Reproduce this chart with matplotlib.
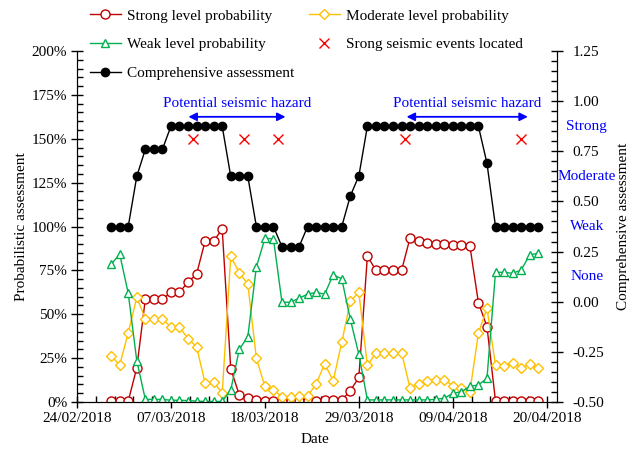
import numpy as np
import pandas as pd
import matplotlib
matplotlib.use("Agg")
from matplotlib import pyplot as plt
from matplotlib import dates as mdates
from matplotlib.ticker import PercentFormatter, MultipleLocator, FixedLocator, FormatStrFormatter

# daily values, 28/02/2018 .. 19/04/2018
dates = pd.date_range("2018-02-28", "2018-04-19", freq="D")

strong = [0.5, 0.5, 0.5, 19.5, 58.5, 58.5, 58.5, 62.5, 62.5, 68.4,
          72.9, 91.7, 91.7, 98.5, 19.0, 4.0, 2.0, 1.0, 0.5, 0.5,
          0.5, 0.5, 0.5, 0.5, 0.5, 1.0, 1.0, 1.0, 6.5, 14.0,
          83.2, 75.0, 75.0, 75.0, 75.0, 93.6, 91.7, 90.8, 90.0, 90.0,
          89.5, 89.5, 88.9, 56.6, 42.9, 0.5, 0.5, 0.5, 0.5, 0.5, 0.5]

moderate = [26.2, 21.1, 39.5, 59.6, 47.5, 47.5, 47.5, 42.6, 42.6, 36.1,
            31.5, 10.8, 11.6, 4.9, 83.0, 73.7, 67.2, 24.9, 8.9, 7.0,
            2.8, 2.7, 3.2, 3.2, 10.3, 21.7, 12.1, 34.0, 57.5, 62.4,
            20.8, 28.1, 28.1, 28.1, 28.1, 7.8, 10.5, 11.8, 12.5, 12.5,
            9.4, 8.2, 5.9, 39.3, 53.4, 21.1, 20.5, 22.0, 19.6, 21.5, 19.6]

weak = [78.5, 84.3, 61.9, 23.5, 1.5, 1.5, 1.5, 1.0, 1.0, 0.8,
        0.5, 0.3, 0.3, 0.3, 6.8, 30.0, 37.2, 76.9, 93.2, 93.0,
        56.8, 56.9, 59.1, 61.5, 62.4, 61.5, 72.5, 70.2, 47.1, 27.2,
        1.2, 1.2, 1.2, 1.2, 1.2, 1.2, 1.2, 1.2, 1.5, 2.2,
        4.9, 5.9, 8.9, 9.7, 13.5, 73.9, 73.9, 73.3, 75.2, 83.8, 84.7]

comprehensive = [0.375, 0.375, 0.375, 0.625, 0.76, 0.76, 0.76, 0.875, 0.875, 0.875,
                 0.875, 0.875, 0.875, 0.875, 0.625, 0.625, 0.625, 0.375, 0.375, 0.375,
                 0.274, 0.274, 0.274, 0.375, 0.375, 0.375, 0.375, 0.375, 0.527, 0.627,
                 0.875, 0.875, 0.875, 0.875, 0.875, 0.875, 0.875, 0.875, 0.875, 0.875,
                 0.875, 0.875, 0.875, 0.875, 0.69, 0.375, 0.375, 0.375, 0.375, 0.375, 0.375]

event_times = pd.to_datetime(["2018-03-09 14:00", "2018-03-15 14:00", "2018-03-19 12:00",
                              "2018-04-03 10:00", "2018-04-17 00:00"])
event_level = [150, 150, 150, 150, 150]

hazard_spans = [("2018-03-09 01:00", "2018-03-20 10:00"),
                ("2018-04-03 14:00", "2018-04-17 19:00")]
hazard_label = "Potential seismic hazard"

level_names = ["Strong", "Moderate", "Weak", "None"]
level_pos = [0.875, 0.625, 0.375, 0.125]

plt.rcParams["font.family"] = ["Liberation Serif", "DejaVu Serif"]
plt.rcParams["font.size"] = 11

fig = plt.figure(figsize=(6.37, 4.51), dpi=100)
ax = fig.add_axes([77 / 637, 1 - 402 / 451, 480 / 637, 351 / 451])
ax2 = ax.twinx()

s = np.array(strong) / 100
m = np.array(moderate) / 100
w = np.array(weak) / 100

l1, = ax.plot(dates, s, color="#C00000", lw=1, marker="o", ms=6.5, mfc="white", mew=1,
              label="Strong level probability")
l2, = ax.plot(dates, m, color="#FFC000", lw=1, marker="D", ms=4.8, mfc="white", mew=1,
              label="Moderate level probability")
l3, = ax.plot(dates, w, color="#00B050", lw=1, marker="^", ms=6, mfc="white", mew=1,
              label="Weak level probability")
l4, = ax.plot(event_times, np.array(event_level) / 100, ls="none", marker="x", ms=7,
              color="#FF0000", mew=1, label="Srong seismic events located")
l5, = ax2.plot(dates, comprehensive, color="black", lw=1, marker="o", ms=6,
               label="Comprehensive assessment")

for a, b in hazard_spans:
    a = pd.Timestamp(a)
    b = pd.Timestamp(b)
    ax.annotate("", xy=(a, 1.625), xytext=(b, 1.625),
                arrowprops=dict(arrowstyle="<|-|>", color="#0000FF", lw=1.3,
                                mutation_scale=12, shrinkA=0, shrinkB=0))
    ax.text(a + (b - a) / 2, 1.70, hazard_label, color="#0000FF",
            ha="center", va="center")

start = pd.Timestamp("2018-02-24")
ax.set_xlim(start, start + pd.Timedelta(days=56.2))
ax.set_xticks(pd.date_range(start, periods=6, freq="11D"))
ax.xaxis.set_major_formatter(mdates.DateFormatter("%d/%m/%Y"))
minor = [mdates.date2num(start) + k * 2.2 for k in range(26)]
ax.xaxis.set_minor_locator(FixedLocator(minor))

ax.set_ylim(0, 2)
ax.yaxis.set_major_locator(MultipleLocator(0.25))
ax.yaxis.set_minor_locator(MultipleLocator(0.05))
ax.yaxis.set_major_formatter(PercentFormatter(1.0, decimals=0))

ax2.set_ylim(-0.5, 1.25)
ax2.yaxis.set_major_locator(MultipleLocator(0.25))
ax2.yaxis.set_minor_locator(MultipleLocator(0.05))
ax2.yaxis.set_major_formatter(FormatStrFormatter("%.2f"))

for a in [ax, ax2]:
    a.spines["top"].set_visible(False)
    a.tick_params(which="major", direction="inout", length=8, width=1, labelsize=11)
    a.tick_params(which="minor", direction="in", length=4, width=1)
ax.tick_params(axis="y", pad=3)
ax.tick_params(axis="x", pad=3)
ax2.tick_params(axis="y", pad=7)

for name, y in zip(level_names, level_pos):
    ax2.text(1.062, y, name, color="#0000FF", ha="center", va="center",
             transform=ax2.get_yaxis_transform())

ax.set_xlabel("Date")
ax.set_ylabel("Probabilistic assessment")
ax2.set_ylabel("Comprehensive assessment")
ax.xaxis.set_label_coords(0.496, -0.088)
ax.yaxis.set_label_coords(-0.103, 0.5)
ax2.yaxis.set_label_coords(1.126, 0.5)

fig.legend(handles=[l1, l3, l5, l2, l4], loc="upper left", ncol=2,
           bbox_to_anchor=(90 / 637, 1 - 9 / 451), frameon=False,
           borderpad=0, borderaxespad=0, handlelength=2.0, handletextpad=0.4,
           columnspacing=1.0, labelspacing=0.98, fontsize=11)

fig.savefig("out.png", dpi=100)
